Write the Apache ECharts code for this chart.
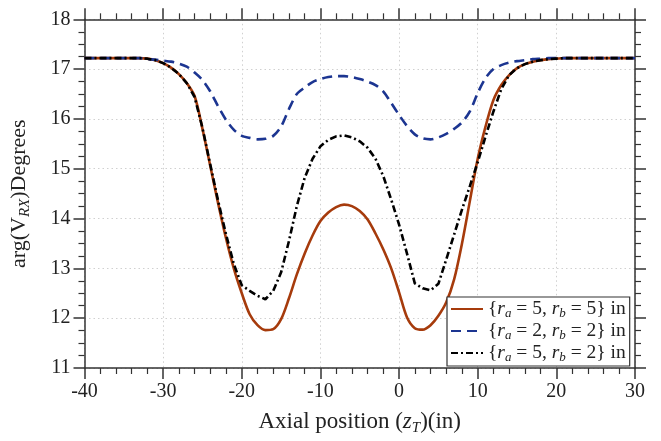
<!DOCTYPE html>
<html><head><meta charset="utf-8">
<script src="https://cdn.jsdelivr.net/npm/echarts@6/dist/echarts.min.js"></script>
<style>html,body{margin:0;padding:0;background:#fff}#c{width:661px;height:441px}</style>
</head><body><div id="c"></div>
<script>
var xs = [];
for (var k = -40; k <= 30; k++) xs.push(k);
var red = [17.22,17.22,17.22,17.22,17.22,17.22,17.22,17.22,
  17.21,17.18,17.12,17.03,16.90,16.72,16.46,15.80,15.05,14.30,13.60,12.99,12.50,12.08,11.86,11.76,11.78,11.98,12.40,12.88,13.30,13.66,13.95,14.12,14.23,14.28,14.25,14.15,13.98,13.70,13.38,13.00,12.52,12.02,11.80,11.77,11.86,12.05,12.32,12.78,13.50,14.35,15.20,15.85,16.38,16.68,16.88,17.02,17.10,17.15,17.18,17.20,17.21,
  17.22,17.22,17.22,17.22,17.22,17.22,17.22,17.22,17.22,17.22];
var blue = [17.22,17.22,17.22,17.22,17.22,17.22,17.22,17.22,
  17.20,17.19,17.17,17.15,17.11,17.05,16.93,16.78,16.55,16.25,15.98,15.78,15.66,15.62,15.59,15.60,15.66,15.85,16.20,16.50,16.63,16.74,16.80,16.84,16.86,16.86,16.84,16.80,16.75,16.68,16.55,16.32,16.08,15.86,15.69,15.61,15.59,15.63,15.70,15.80,15.93,16.15,16.52,16.82,17.00,17.08,17.13,17.16,17.18,17.20,17.21,17.22,17.22,
  17.22,17.22,17.22,17.22,17.22,17.22,17.22,17.22,17.22,17.22];
var black = [17.22,17.22,17.22,17.22,17.22,17.22,17.22,17.22,
  17.21,17.18,17.12,17.03,16.90,16.72,16.44,15.82,15.08,14.35,13.68,13.08,12.66,12.55,12.45,12.38,12.55,12.92,13.55,14.25,14.82,15.20,15.45,15.58,15.65,15.67,15.63,15.55,15.42,15.20,14.85,14.38,13.88,13.30,12.70,12.60,12.56,12.69,13.18,13.68,14.18,14.65,15.13,15.65,16.15,16.60,16.88,17.02,17.10,17.15,17.18,17.20,17.21,
  17.22,17.22,17.22,17.22,17.22,17.22,17.22,17.22,17.22,17.22];
var names = ['s1','s2','s3'];
var legendA = ['5','2','5'];
var legendB = ['5','2','2'];
var xTicks = [-40,-30,-20,-10,0,10,20,30];

var FONT = 'Liberation Serif';
function pairs(v){ return xs.map(function(x,i){ return [x, v[i]]; }); }
var axisCommon = {
  axisLine: {show: true, onZero: false, lineStyle: {color: '#333', width: 1.5}},
  axisTick: {show: true, inside: false, length: 11, lineStyle: {color:'#333', width: 1.5}},
  minorTick: {show: true, splitNumber: 5, length: 6, lineStyle: {color:'#333', width: 1.2}},
  splitLine: {show: false}
};
var chart = echarts.init(document.getElementById('c'), null, {renderer: 'canvas'});
var legendRich = {
  t: {fontFamily: FONT, fontSize: 19.5, color:'#222', lineHeight: 22},
  i: {fontFamily: FONT, fontSize: 19.5, fontStyle:'italic', color:'#222', lineHeight: 22},
  s: {fontFamily: FONT, fontSize: 13, fontStyle:'italic', color:'#222', lineHeight: 22, verticalAlign:'bottom'}
};
chart.setOption({
  animation: false,
  backgroundColor: '#fff',
  grid: {left: 80.7, right: 26, top: 19.3, bottom: 70.7, containLabel: false},
  legend: {
    orient: 'vertical', left: 447, top: 297,
    backgroundColor: '#fff', borderColor: '#333', borderWidth: 1.2, borderRadius: 0,
    padding: [2, 4, 2, 3], itemGap: 1, itemWidth: 32, itemHeight: 14,
    itemStyle: {opacity: 0},
    data: names,
    formatter: function(n){
      var k = names.indexOf(n);
      return '{t|\u007B}{i|r}{s|a}{t| = ' + legendA[k] + ', }{i|r}{s|b}{t| = ' + legendB[k] + '}\u007D{t| in}';
    },
    textStyle: {fontFamily: FONT, fontSize: 19.5, color:'#222', rich: legendRich}
  },
  xAxis: [
    Object.assign({}, axisCommon, {
      type: 'value', position: 'bottom', min: -40, max: 30, interval: 10,
      axisLabel: {show: true, fontFamily: FONT, fontSize: 20, color:'#222', margin: 14,
        formatter: function(v){ return xTicks.indexOf(v) >= 0 ? String(v) : ''; }},
      splitLine: {show: true, lineStyle: {color:'#d0d0d0', type:[1.5,3], width: 1}},
      name: '{t|Axial position (}{i|z}{s|T}{t|)(in)}', nameLocation: 'middle', nameGap: 40,
      nameTextStyle: {fontFamily: FONT, fontSize: 22, color:'#222', rich: {
        t: {fontFamily: FONT, fontSize: 23, color:'#222', lineHeight: 28},
        i: {fontFamily: FONT, fontSize: 23, fontStyle:'italic', color:'#222', lineHeight: 28},
        s: {fontFamily: FONT, fontSize: 15, fontStyle:'italic', color:'#222', lineHeight: 28, verticalAlign:'bottom'}
      }}
    }),
    Object.assign({}, axisCommon, {
      type: 'value', position: 'top', min: -40, max: 30, interval: 10,
      axisLabel: {show: false}
    })
  ],
  yAxis: [
    Object.assign({}, axisCommon, {
      type: 'value', position: 'left', min: 11, max: 18, interval: 1,
      minorTick: {show: true, splitNumber: 4, length: 6, lineStyle: {color:'#333', width: 1.2}},
      axisLabel: {show: true, fontFamily: FONT, fontSize: 20, color:'#222', margin: 14},
      splitLine: {show: true, lineStyle: {color:'#d0d0d0', type:[1.5,3], width: 1}},
      name: '{t|arg(V}{s|RX}{t|)Degrees}', nameLocation: 'middle', nameGap: 52, nameRotate: 90,
      nameTextStyle: {fontFamily: FONT, fontSize: 22, color:'#222', rich: {
        t: {fontFamily: FONT, fontSize: 22, color:'#222', lineHeight: 27},
        s: {fontFamily: FONT, fontSize: 15, fontStyle:'italic', color:'#222', lineHeight: 27, verticalAlign:'bottom'}
      }}
    }),
    Object.assign({}, axisCommon, {
      type: 'value', position: 'right', min: 11, max: 18, interval: 1,
      minorTick: {show: true, splitNumber: 4, length: 6, lineStyle: {color:'#333', width: 1.2}},
      axisLabel: {show: false}
    })
  ],
  series: [
    {name: 's1', type: 'line', data: pairs(red), symbol: 'none', smooth: 0.3, z: 3,
     lineStyle: {color: '#a63b0c', width: 2.6}, itemStyle: {color: '#a63b0c'}},
    {name: 's2', type: 'line', data: pairs(blue), symbol: 'none', smooth: 0.3, z: 4,
     lineStyle: {color: '#1c3591', width: 2.6, type: [10, 6]}, itemStyle: {color: '#1c3591'}},
    {name: 's3', type: 'line', data: pairs(black), symbol: 'none', smooth: false, z: 5,
     lineStyle: {color: '#000', width: 2.6, type: [7, 3, 2, 3]}, itemStyle: {color: '#000'}}
  ]
});
</script></body></html>
